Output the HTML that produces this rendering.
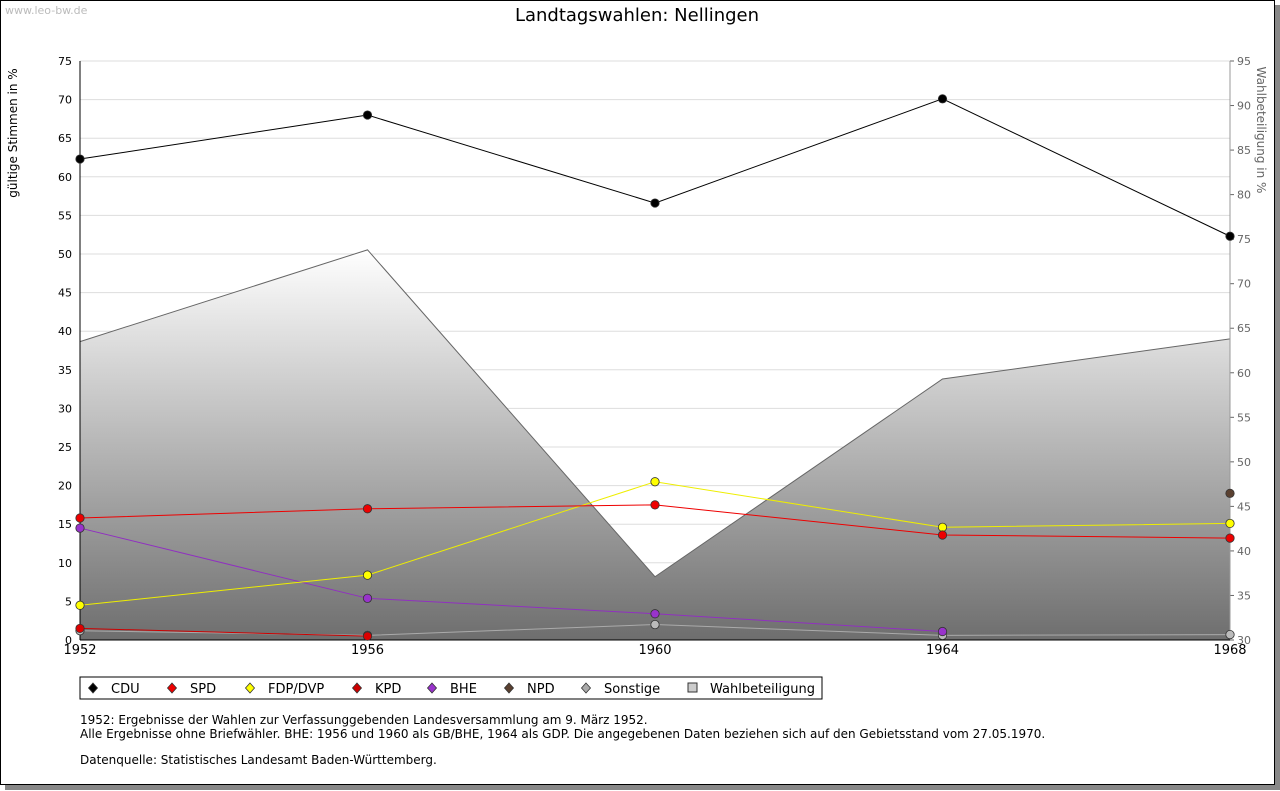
<!DOCTYPE html>
<html><head><meta charset="utf-8"><style>
body{margin:0;background:#fff;font-family:"DejaVu Sans","Liberation Sans",sans-serif}
#frame{position:absolute;left:0;top:0;width:1273px;height:783px;border:1px solid #000;background:#fff;box-shadow:5px 5px 0 #888}
</style></head><body>
<div id="frame"></div>
<svg id="c" width="1280" height="791" style="position:absolute;left:0;top:0" font-family="DejaVu Sans, Liberation Sans, sans-serif">
<defs><linearGradient id="g" x1="0" y1="0" x2="0" y2="1"><stop offset="0" stop-color="#fff"/><stop offset="1" stop-color="#6e6e6e"/></linearGradient></defs>
<text x="5" y="14" font-size="11" fill="#bbb">www.leo-bw.de</text>
<text x="637" y="21" font-size="18" text-anchor="middle">Landtagswahlen: Nellingen</text>
<text transform="translate(17,133) rotate(-90)" font-size="12" text-anchor="middle">gültige Stimmen in %</text>
<text transform="translate(1257,130) rotate(90)" font-size="12" fill="#666" text-anchor="middle">Wahlbeteiligung in %</text>
<g id="grid"></g><g id="area"></g><g id="axes"></g><g id="series"></g>
<rect x="80" y="677" width="742" height="22" fill="#fff" stroke="#000"/>
<g id="legend"></g>
<text font-size="12"><tspan x="80" y="724">1952: Ergebnisse der Wahlen zur Verfassunggebenden Landesversammlung am 9. März 1952.</tspan><tspan x="80" y="738">Alle Ergebnisse ohne Briefwähler. BHE: 1956 und 1960 als GB/BHE, 1964 als GDP. Die angegebenen Daten beziehen sich auf den Gebietsstand vom 27.05.1970.</tspan><tspan x="80" y="764">Datenquelle: Statistisches Landesamt Baden-Württemberg.</tspan></text>
</svg>
<script>
const years=[1952,1956,1960,1964,1968];
const leftTicks=[0,5,10,15,20,25,30,35,40,45,50,55,60,65,70,75];
const rightTicks=[30,35,40,45,50,55,60,65,70,75,80,85,90,95];
const cdu=[62.3,68.0,56.6,70.1,52.3];
const spd=[15.8,17.0,17.5,13.6,13.2];
const fdp=[4.5,8.4,20.5,14.6,15.1];
const kpd=[1.5,0.5,null,null,null];
const bhe=[14.5,5.4,3.4,1.1,null];
const npd=[null,null,null,null,19.0];
const sonst=[1.2,0.6,2.0,0.6,0.7];
const turnout=[63.5,73.8,37.1,59.3,63.8];
const NS="http://www.w3.org/2000/svg";
const X=y=>80+(y-1952)/16*1150;
const Y=v=>640-v/75*579;
const Y2=v=>640-(v-30)/65*579;
function mk(p,t,a){const e=document.createElementNS(NS,t);for(const k in a)e.setAttribute(k,a[k]);document.getElementById(p).appendChild(e);return e;}
leftTicks.forEach(v=>{
 const l=mk('grid','line',{x1:80,x2:1230,y1:Y(v),y2:Y(v),stroke:'#ddd'});
 
 
 const t=mk('axes','text',{x:72,y:Y(v)+4,'font-size':11,'text-anchor':'end'});t.textContent=v;
 
 
});
rightTicks.forEach(v=>{
 const t=mk('axes','text',{x:1237,y:Y2(v)+4,'font-size':11,fill:'#666'});t.textContent=v;
 
 
 mk('axes','line',{x1:1230,x2:1234,y1:Y2(v),y2:Y2(v),stroke:'#666'});
});
let d='M'+X(years[0])+','+Y2(30);
years.forEach((y,i)=>d+=' L'+X(y)+','+Y2(turnout[i]));
d+=' L'+X(years[4])+','+Y2(30)+'Z';
const ar=mk('area','path',{d:d,fill:'url(#g)',stroke:'none'});


const tl=mk('area','polyline',{points:years.map((y,i)=>X(y)+','+Y2(turnout[i])).join(' '),fill:'none',stroke:'#666'});


mk('axes','line',{x1:80,x2:80,y1:61,y2:640,stroke:'#000'});
mk('axes','line',{x1:1230,x2:1230,y1:61,y2:640,stroke:'#999'});
mk('axes','line',{x1:80,x2:1230,y1:640,y2:640,stroke:'#000'});
years.forEach(y=>{const t=mk('axes','text',{x:X(y),y:654,'font-size':13,'text-anchor':'middle'});t.textContent=y;
 
 });
const series=[['sonstige',sonst,'#aaa','#bbb'],['kpd',kpd,'#c00','#d00'],['npd',npd,'#5a4030','#5a4030'],['bhe',bhe,'#9030c0','#9933cc'],['fdp',fdp,'#ee0','#ff0'],['spd',spd,'#e00','#e00'],['cdu',cdu,'#000','#000']];
series.forEach(([n,vals,lc,fc])=>{
 const pts=years.map((y,i)=>vals[i]==null?null:[X(y),Y(vals[i])]).filter(p=>p);
 const pl=mk('series','polyline',{points:pts.map(p=>p.join(',')).join(' '),fill:'none',stroke:lc,'stroke-width':1});
 
 
 pts.forEach(p=>{const c=mk('series','circle',{cx:p[0],cy:p[1],r:4.2,fill:fc,stroke:'#333','stroke-width':0.8});
  
  });
});
const leg=[['CDU','#000',93],['SPD','#e00',172],['FDP/DVP','#ff0',250],['KPD','#c00',357],['BHE','#9933cc',432],['NPD','#5a4030',509],['Sonstige','#aaa',586]];
leg.forEach(([t,c,x])=>{
 const m=mk('legend','path',{d:`M${x},${683} L${x+4.5},688 L${x},693 L${x-4.5},688Z`,fill:c,stroke:'#333','stroke-width':0.8});
 
 
 const e=mk('legend','text',{x:x+18,y:693,'font-size':13});e.textContent=t;
 
 
});
const sq=mk('legend','rect',{x:688,y:683,width:9,height:9,fill:'#ccc',stroke:'#333'});


const wt=mk('legend','text',{x:710,y:693,'font-size':13});wt.textContent='Wahlbeteiligung';


</script>
</body></html>
